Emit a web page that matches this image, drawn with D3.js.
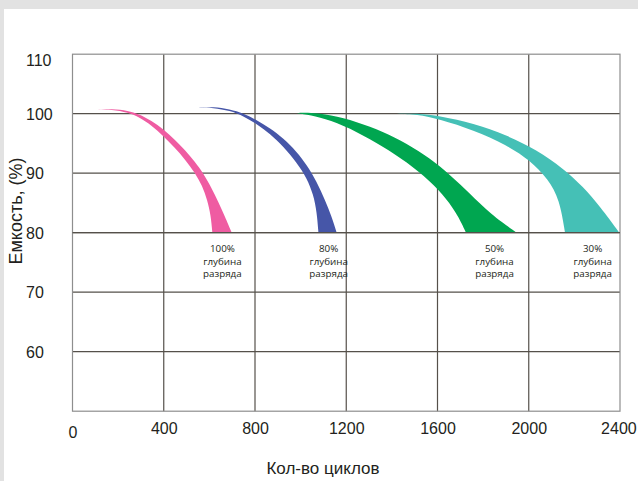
<!DOCTYPE html>
<html><head><meta charset="utf-8">
<script src="https://cdn.jsdelivr.net/npm/d3@7"></script>
<style>
html,body{margin:0;padding:0;background:#e2e2e2;}
svg{display:block;}
</style></head>
<body>
<svg id="chart" width="638" height="481"></svg>
<script>
// ---- data ----
const xTicks = [0, 400, 800, 1200, 1600, 2000, 2400];
const yTicks = [60, 70, 80, 90, 100, 110];
const seriesNames = ["100%", "80%", "50%", "30%"];
const seriesColors = ["#ef5ca2", "#4656a8", "#00a650", "#45c0b6"];
const labelLines = ["глубина", "разряда"];
// outer (upper/right) edge of each band: [cycles, capacity %]
const outer100 = [[99,100.6],[172,100.85],[245,100.5],[289,99.95],[347,98.8],[398,97.4],[449,95.6],[493,93.9],[537,91.9],[573,90.0],[610,87.45],[639,85.2],[668,82.7],[698,80]];
const inner100 = [[99,100.6],[172,100.74],[245,100.17],[289,99.5],[347,98.05],[398,96.25],[449,94.24],[493,92.33],[537,90.09],[569,87.85],[591,85.5],[606,82.97],[613,80]];
const outer80 = [[551,101.05],[617,101.15],[690,100.75],[749,100.05],[807,98.95],[866,97.55],[924,95.9],[983,93.6],[1027,91.4],[1070,88.6],[1107,85.5],[1136,82.7],[1158,80]];
const inner80 = [[551,101.05],[617,101.0],[690,100.5],[749,99.6],[807,98.3],[866,96.6],[924,94.5],[983,91.8],[1027,89.2],[1056,86.4],[1071,83.4],[1078,80]];
const outer50 = [[983,100.1],[1041,100.2],[1129,99.8],[1246,98.66],[1362,97.0],[1465,95.0],[1567,92.5],[1655,89.7],[1742,86.6],[1830,83.2],[1947,80]];
const inner50 = [[983,100.1],[1041,99.8],[1129,98.94],[1246,97.0],[1362,94.45],[1465,91.9],[1567,88.7],[1640,85.7],[1691,82.8],[1725,80]];
const outer30 = [[1421,99.97],[1509,100.07],[1611,99.6],[1757,98.4],[1903,96.4],[2035,93.9],[2151,90.8],[2239,87.7],[2312,84.4],[2397,80]];
const inner30 = [[1421,99.97],[1509,99.9],[1611,99.05],[1757,97.25],[1903,94.75],[2005,92.2],[2085,89.0],[2135,85.6],[2159,80]];
const bandsOuter = [outer100, outer80, outer50, outer30];
const bandsInner = [inner100, inner80, inner50, inner30];
const labelX = [657, 1123, 1850, 2280]; // cycles where the labels are centred

// ---- layout ----
const svg = d3.select("#chart");
svg.append("rect").attr("x",4).attr("y",9).attr("width",634).attr("height",472).attr("fill","#ffffff");

const x = d3.scaleLinear().domain([0, 2400]).range([72.5, 620]);
const y = d3.scaleLinear().domain([50, 110]).range([411.2, 54.2]);

const gridColor = "#55504a";
const frameColor = "#8e8e8e";

// grid
const g = svg.append("g");
g.selectAll("line.v").data(xTicks.slice(1, -1)).enter().append("line")
  .attr("x1", d => x(d)).attr("x2", d => x(d))
  .attr("y1", y(110)).attr("y2", y(50))
  .attr("stroke", gridColor).attr("stroke-width", 1.2);
g.selectAll("line.h").data(yTicks.slice(0, -1)).enter().append("line")
  .attr("x1", x(0)).attr("x2", x(2400))
  .attr("y1", d => y(d)).attr("y2", d => y(d))
  .attr("stroke", gridColor).attr("stroke-width", 1.2);
g.append("rect").attr("x", x(0)).attr("y", y(110))
  .attr("width", x(2400) - x(0)).attr("height", y(50) - y(110))
  .attr("fill", "none").attr("stroke", frameColor).attr("stroke-width", 1.2);

// bands
const line = d3.line().x(d => x(d[0])).y(d => y(d[1])).curve(d3.curveBasis);
const bands = svg.append("g");
seriesNames.forEach((name, i) => {
  const o = line(bandsOuter[i]);
  const inn = line(bandsInner[i].slice().reverse());
  const p = o + "L" + inn.slice(1) + "Z";
  bands.append("path").attr("d", p).attr("fill", seriesColors[i]).attr("stroke", "none");
});
// redraw 80 line on top of band bottoms
svg.append("line").attr("x1", x(0)).attr("x2", x(2400)).attr("y1", y(80)).attr("y2", y(80))
  .attr("stroke", gridColor).attr("stroke-width", 1.2);

// band labels
const lab = svg.append("g").attr("font-family", "'Open Sans', sans-serif").attr("font-size", 9.8)
  .attr("fill", "#231f20").attr("text-anchor", "middle");
seriesNames.forEach((name, i) => {
  const t = lab.append("text").attr("x", x(labelX[i])).attr("y", 252);
  [name].concat(labelLines).forEach((s, k) => {
    t.append("tspan").attr("x", x(labelX[i])).attr("dy", k === 0 ? 0 : 12.6).text(s);
  });
});

// axis labels (D3 axes, with domain/ticks hidden)
const fontAx = "'Liberation Sans', Arial, sans-serif";
const yAxis = svg.append("g").attr("transform", "translate(26,0)")
  .call(d3.axisRight(y).tickValues(yTicks).tickSize(0).tickPadding(0));
yAxis.select(".domain").remove();
yAxis.selectAll("text").attr("font-family", fontAx).attr("font-size", 16).attr("fill", "#231f20")
  .attr("dy", d => d === 110 ? "0.7em" : "0.36em");

const xAxis = svg.append("g").attr("transform", "translate(0,423)")
  .call(d3.axisBottom(x).tickValues(xTicks).tickSize(0).tickPadding(0).tickFormat(d3.format("d")));
xAxis.select(".domain").remove();
xAxis.selectAll("text").attr("font-family", fontAx).attr("font-size", 16).attr("fill", "#231f20")
  .attr("dy", d => d === 0 ? "0.95em" : "0.71em")
  .attr("dx", d => d === 2400 ? "-0.1em" : 0);

// titles
svg.append("text").attr("x", 323).attr("y", 474).attr("text-anchor", "middle")
  .attr("font-family", fontAx).attr("font-size", 17).attr("fill", "#231f20").text("Кол-во циклов");
svg.append("text").attr("transform", "translate(22,211) rotate(-90)").attr("text-anchor", "middle")
  .attr("font-family", fontAx).attr("font-size", 18).attr("fill", "#231f20").text("Емкость, (%)");
</script>
</body></html>
